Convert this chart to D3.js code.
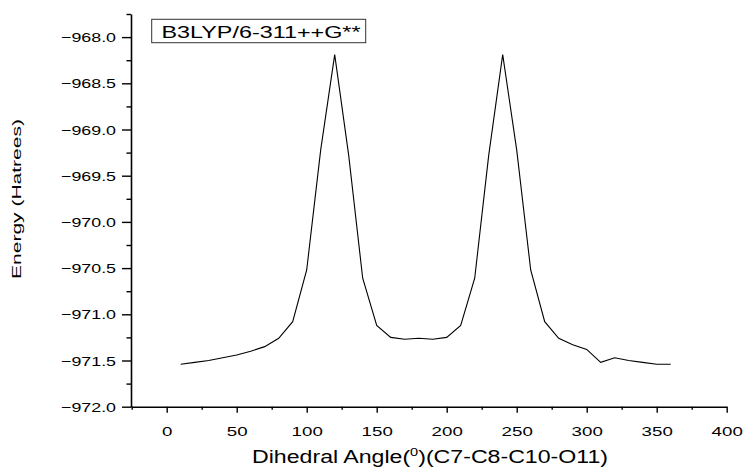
<!DOCTYPE html>
<html>
<head>
<meta charset="utf-8">
<script src="https://cdn.jsdelivr.net/npm/d3@7"></script>
<style>
  html, body { margin: 0; padding: 0; background: #fff; }
  svg { display: block; }
  text { font-family: "Liberation Sans", Arial, sans-serif; fill: #000; }
</style>
</head>
<body>
<svg id="chart" width="744" height="469"></svg>
<script>
// ---- data ----
const angles = [10, 20, 30, 40, 50, 60, 70, 80, 90, 100, 110, 120, 130, 140, 150, 160, 170, 180,
                190, 200, 210, 220, 230, 240, 250, 260, 270, 280, 290, 300, 310, 320, 330, 340, 350, 360];
const energies = [-971.54, -971.52, -971.50, -971.47, -971.44, -971.40, -971.35, -971.26, -971.08,
                  -970.52, -969.22, -968.19, -969.28, -970.61, -971.12, -971.25, -971.27, -971.26,
                  -971.27, -971.25, -971.12, -970.61, -969.28, -968.19, -969.22, -970.52, -971.08,
                  -971.26, -971.33, -971.38, -971.52, -971.47, -971.50, -971.52, -971.54, -971.54];
const xTicks = [0, 50, 100, 150, 200, 250, 300, 350, 400];
const xMinorTicks = [-25, 25, 75, 125, 175, 225, 275, 325, 375];
const yTicks = [-972.0, -971.5, -971.0, -970.5, -970.0, -969.5, -969.0, -968.5, -968.0];
const yMinorTicks = [-971.75, -971.25, -970.75, -970.25, -969.75, -969.25, -968.75, -968.25, -967.75];
const legendLabel = "B3LYP/6-311++G**";
const xTitle = "Dihedral Angle(";
const xTitleSup = "0";
const xTitleEnd = ")(C7-C8-C10-O11)";
const yTitle = "Energy (Hatrees)";

// ---- layout ----
const svg = d3.select("#chart");
const x = d3.scaleLinear().domain([-25.5, 400]).range([131, 726.7]);
const y = d3.scaleLinear().domain([-972, -967.75]).range([406.7, 14]);

// curve
const line = d3.line().x((d, i) => x(angles[i])).y(d => y(d));
svg.append("path")
  .datum(energies)
  .attr("d", line)
  .attr("fill", "none")
  .attr("stroke", "#000")
  .attr("stroke-width", 1.1)
  .attr("stroke-linejoin", "miter");

// x axis
const xAxisG = svg.append("g").attr("transform", `translate(0,${y.range()[0]})`);
xAxisG.call(d3.axisBottom(x).tickValues(xTicks).tickSize(6).tickSizeOuter(0).tickFormat(d3.format("d")));
xAxisG.append("g").call(d3.axisBottom(x).tickValues(xMinorTicks).tickSize(3).tickSizeOuter(0).tickFormat(""))
  .select(".domain").remove();
xAxisG.selectAll(".domain").attr("stroke", "#000").attr("stroke-width", 1.6);
xAxisG.selectAll(".tick line").attr("stroke", "#000").attr("stroke-width", 1.4);
xAxisG.selectAll(".tick text")
  .attr("y", 0).attr("dy", 0)
  .attr("transform", "translate(0,29)")
  .attr("font-size", 13)
  .attr("fill", "#000")
  .each(function () {
    const t = d3.select(this);
    const n = t.text().length;
    if (n) t.attr("textLength", 10.4 * n).attr("lengthAdjust", "spacingAndGlyphs");
  });

// y axis
const yAxisG = svg.append("g").attr("transform", `translate(${x.range()[0]},0)`);
yAxisG.call(d3.axisLeft(y).tickValues(yTicks).tickSize(9).tickSizeOuter(0).tickFormat(d3.format(".1f")));
yAxisG.append("g").call(d3.axisLeft(y).tickValues(yMinorTicks).tickSize(4.5).tickSizeOuter(0).tickFormat(""))
  .select(".domain").remove();
yAxisG.selectAll(".domain").attr("stroke", "#000").attr("stroke-width", 1.6);
yAxisG.selectAll(".tick line").attr("stroke", "#000").attr("stroke-width", 1.4);
yAxisG.selectAll(".tick text")
  .attr("x", -15).attr("dy", "0.36em")
  .attr("font-size", 13)
  .attr("fill", "#000")
  .each(function () {
    const t = d3.select(this);
    if (t.text().length) t.attr("textLength", 55).attr("lengthAdjust", "spacingAndGlyphs");
  });

// x title
const xt = svg.append("text")
  .attr("x", 430).attr("y", 463.3)
  .attr("text-anchor", "middle")
  .attr("font-size", 17.5)
  .attr("textLength", 356).attr("lengthAdjust", "spacingAndGlyphs");
xt.append("tspan").text(xTitle);
xt.append("tspan").attr("font-size", 11).attr("dy", -7).text(xTitleSup);
xt.append("tspan").attr("dy", 7).text(xTitleEnd);

// y title
svg.append("text")
  .attr("transform", "translate(20.7,199) rotate(-90)")
  .attr("text-anchor", "middle")
  .attr("font-size", 12.5)
  .attr("textLength", 160).attr("lengthAdjust", "spacingAndGlyphs")
  .text(yTitle);

// legend box
svg.append("rect")
  .attr("x", 151.7).attr("y", 19.3)
  .attr("width", 214).attr("height", 23.4)
  .attr("fill", "#fff").attr("stroke", "#333").attr("stroke-width", 1);
svg.append("text")
  .attr("x", 161.5).attr("y", 37.7)
  .attr("font-size", 17)
  .attr("textLength", 199).attr("lengthAdjust", "spacingAndGlyphs")
  .text(legendLabel);
</script>
</body>
</html>
